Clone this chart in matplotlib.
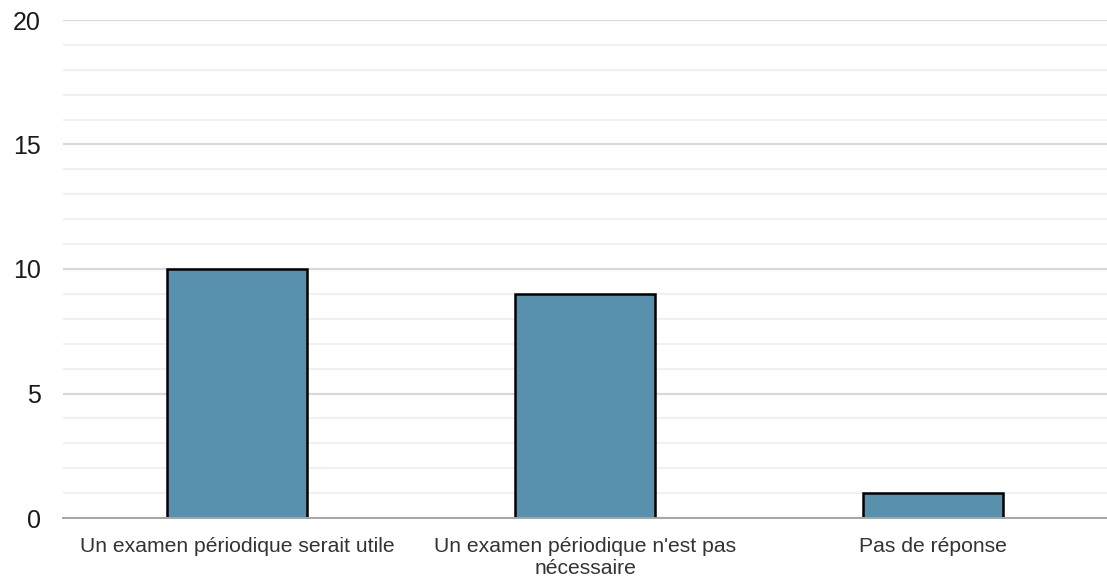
import matplotlib
matplotlib.use("Agg")
import matplotlib.pyplot as plt
from matplotlib.ticker import MultipleLocator

categories = ["Un examen périodique serait utile",
              "Un examen périodique n'est pas\nnécessaire",
              "Pas de réponse"]
values = [10, 9, 1]
y_ticks = [0, 5, 10, 15, 20]

plt.rcParams['font.family'] = ['Liberation Sans', 'DejaVu Sans']

fig = plt.figure(figsize=(11.07, 5.8), dpi=100)
ax = fig.add_axes([63 / 1107, 62 / 580, 1 - 63 / 1107, 498 / 580])

x = list(range(len(categories)))
ax.bar(x, values, width=0.4, color="#5891ad", edgecolor="black", linewidth=1.8, zorder=3)

ax.set_xlim(-0.5, 2.5)
ax.set_ylim(0, 20)
ax.set_yticks(y_ticks)
ax.yaxis.set_minor_locator(MultipleLocator(1))
ax.grid(axis="y", which="major", color="#d9d9d9", linewidth=1.6, zorder=0)
ax.grid(axis="y", which="minor", color="#f0f0f0", linewidth=1.4, zorder=0)

ax.set_xticks(x)
ax.set_xticklabels(categories, fontsize=15.2, color="#333333", linespacing=1.15)
ax.tick_params(axis="x", length=0, pad=14)
ax.tick_params(axis="y", which="both", length=0, pad=16, labelsize=18, labelcolor="#1a1a1a")

for side in ("top", "right", "left"):
    ax.spines[side].set_visible(False)
ax.spines["bottom"].set_color("#a6a6a6")
ax.spines["bottom"].set_linewidth(1.4)
ax.spines["bottom"].set_zorder(4)

fig.savefig("out.png", dpi=100)
